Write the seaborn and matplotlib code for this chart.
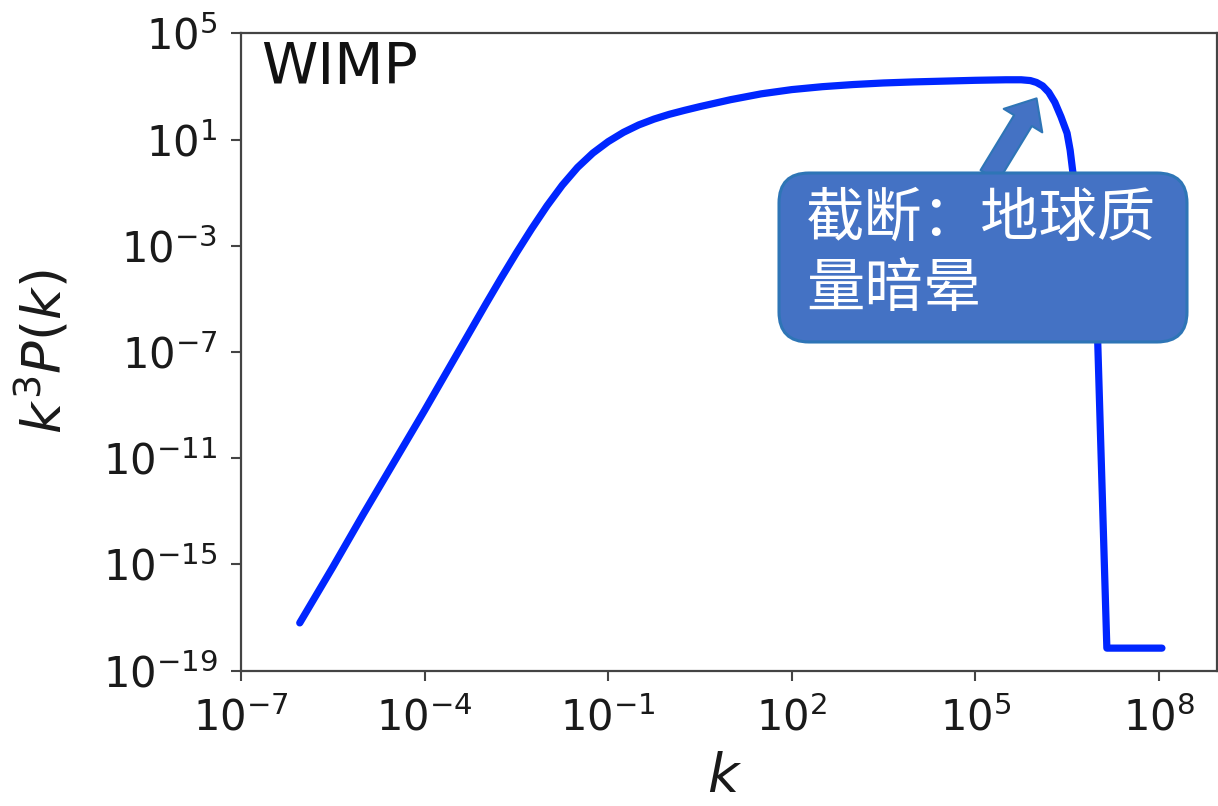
import numpy as np
import pandas as pd
import matplotlib
matplotlib.use("Agg")
import matplotlib.pyplot as plt
from matplotlib.patches import FancyBboxPatch, FancyArrowPatch
from matplotlib.ticker import NullLocator
import seaborn as sns

# log10 of wavenumber k and of the dimensionless power spectrum k^3 P(k)
log_k = [-6.04, -5.5, -5.0, -4.5, -4.0, -3.5, -3.25, -3.0, -2.75, -2.5,
         -2.25, -2.0, -1.75, -1.5, -1.25, -1.0, -0.75, -0.5, -0.25, 0.0,
         0.25, 0.5, 1.0, 1.5, 2.0, 2.5, 3.0, 3.5, 4.0, 4.5,
         5.0, 5.5, 5.75, 5.9, 6.0, 6.1, 6.2, 6.3, 6.4, 6.5,
         6.55, 6.59, 6.7, 6.82, 7.00, 7.15, 8.05]
log_spec = [-17.2, -15.1, -13.1, -11.15, -9.2, -7.2, -6.2, -5.2, -4.22, -3.27,
            -2.36, -1.5, -0.72, -0.05, 0.49, 0.92, 1.27, 1.55, 1.77, 1.95,
            2.10, 2.24, 2.50, 2.72, 2.88, 2.99, 3.07, 3.13, 3.17, 3.20,
            3.23, 3.25, 3.25, 3.22, 3.15, 3.02, 2.78, 2.40, 1.86, 1.24,
            0.60, -0.15, -1.90, -3.55, -6.56, -18.15, -18.15]

x_tick_exp = [-7, -4, -1, 2, 5, 8]
y_tick_exp = [5, 1, -3, -7, -11, -15, -19]

model_label = "WIMP"
cutoff_note = "截断：地球质\n量暗晕"

df = pd.DataFrame({"k": np.power(10.0, log_k), "spec": np.power(10.0, log_spec)})

sns.set_style("ticks")
plt.rcParams["font.family"] = ["DejaVu Sans", "Noto Sans CJK SC"]
plt.rcParams["mathtext.fontset"] = "dejavusans"

W, H = 1218, 806
fig = plt.figure(figsize=(W / 100, H / 100), dpi=100)
ax = fig.add_axes([241 / W, (H - 670.7) / H, 976 / W, 637.4 / H])

sns.lineplot(data=df, x="k", y="spec", ax=ax, sort=False, estimator=None,
             color="#0026FF", linewidth=5.2, solid_joinstyle="round", zorder=3)

ax.set_xscale("log")
ax.set_yscale("log")
ax.set_xlim(1e-7, 10 ** 8.95)
ax.set_ylim(1e-19, 1e5)
ax.set_xticks([10.0 ** e for e in x_tick_exp])
ax.set_yticks([10.0 ** e for e in y_tick_exp])
ax.xaxis.set_minor_locator(NullLocator())
ax.yaxis.set_minor_locator(NullLocator())

for sp in ax.spines.values():
    sp.set_color("#444444")
    sp.set_linewidth(1.6)

ax.tick_params(axis="both", which="major", direction="out", length=7, width=1.5,
               color="#444444", labelsize=30, labelcolor="#1a1a1a",
               bottom=True, left=True, top=False, right=False)
ax.tick_params(axis="x", pad=12)
ax.tick_params(axis="y", pad=10)

ax.set_xlabel("$k$", fontsize=39, color="#1a1a1a")
ax.set_ylabel("$k^3P(k)$", fontsize=39, color="#1a1a1a")
ax.xaxis.set_label_coords(0.495, -0.126)
ax.yaxis.set_label_coords(-0.173, 0.5)

ax.text(0.021, 0.988, model_label, transform=ax.transAxes, ha="left", va="top",
        fontsize=41, color="#111111")

# callout: rounded box with a block arrow pointing at the cutoff
px = fig.dpi_scale_trans
arrow = FancyArrowPatch((988 / 100, (H - 178) / 100), (1038 / 100, (H - 96) / 100),
                        transform=px,
                        arrowstyle="simple,head_length=0.75,head_width=1.3,tail_width=0.6",
                        mutation_scale=25, facecolor="#4472C4", edgecolor="#2E75B6",
                        linewidth=1.5, zorder=4)
fig.add_artist(arrow)

box = FancyBboxPatch((779 / 100, (H - 342) / 100), 408 / 100, 169 / 100,
                     boxstyle="round,pad=0,rounding_size=0.3", transform=px,
                     facecolor="#4472C4", edgecolor="#2E75B6", linewidth=2.2, zorder=5)
fig.add_artist(box)

fig.text(806 / W, (H - 189) / H, cutoff_note, ha="left", va="top", fontsize=42,
         color="white", family=["Noto Sans CJK SC", "DejaVu Sans"],
         linespacing=1.2, zorder=6)

fig.savefig("out.png", dpi=100, facecolor="white")
